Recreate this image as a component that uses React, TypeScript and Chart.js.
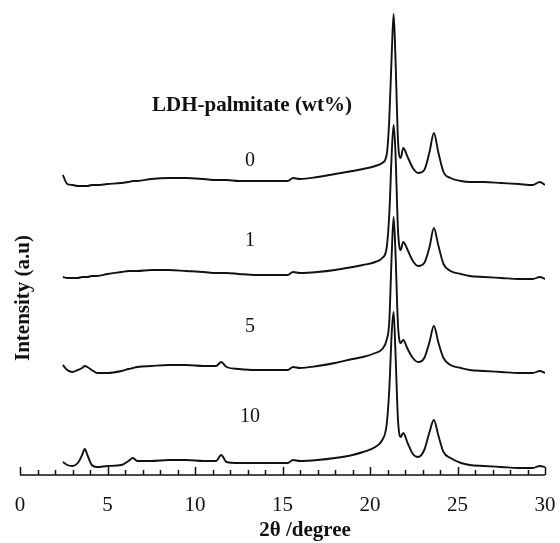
import React, { useEffect, useRef } from "react";
import { Chart, registerables } from "chart.js";

Chart.register(...registerables);

// 2θ (degree) sampling points
const TWO_THETA = [
  2.45, 2.7, 3.0, 3.3, 3.55, 3.7, 3.85, 4.1, 4.4, 5.0, 5.8, 6.2, 6.45, 6.7, 7.5, 8.5, 9.5, 10.5, 11.2, 11.5,
  11.8, 12.5, 13.5, 14.5, 15.3, 15.6, 16.0, 17.0, 18.0, 19.0, 19.6, 20.3, 20.7, 20.95, 21.1, 21.25, 21.35, 21.45,
  21.6, 21.75, 21.9, 22.15, 22.45, 22.75, 23.1, 23.4, 23.65, 23.9, 24.2, 24.6, 25.2, 25.7, 26.5, 27.5, 28.5,
  29.3, 29.7, 30.0,
];

// Intensity (a.u.), stacked with vertical offsets as in the figure
const INTENSITY_0 = [
  300, 291, 290, 289, 289, 289, 289, 290, 290, 291, 292, 293, 294, 294, 296, 297, 297, 296, 295, 295,
  295, 294, 294, 294, 294, 297, 296, 298, 301, 304, 306, 309, 312, 320, 355, 425, 461, 420,
  335, 317, 327, 318, 307, 302, 305, 323, 342, 323, 303, 297, 294, 293, 293, 292, 291,
  290, 293, 290,
];
const INTENSITY_1 = [
  198, 197, 197, 197, 198, 198, 198, 199, 199, 201, 203, 204, 204, 204, 205, 205, 204, 203, 202, 202,
  202, 201, 200, 200, 200, 203, 202, 203, 205, 208, 210, 213, 217, 227, 260, 325, 350, 325,
  245, 225, 233, 225, 214, 209, 212, 228, 247, 230, 211, 204, 201, 199, 198, 197, 196,
  196, 198, 196,
];
const INTENSITY_5 = [
  110, 105, 103, 105, 107, 109, 108, 105, 102, 102, 104, 106, 107, 108, 109, 110, 110, 109, 109, 113,
  108, 106, 105, 105, 105, 108, 107, 109, 112, 116, 118, 122, 126, 135, 153, 225, 258, 225,
  150, 132, 135, 126, 117, 113, 117, 133, 149, 133, 117, 110, 107, 105, 104, 103, 102,
  102, 104, 102,
];
const INTENSITY_10 = [
  13, 10, 9, 12, 20, 26, 20, 10, 8, 9, 10, 14, 17, 14, 14, 15, 15, 14, 14, 20,
  13, 12, 12, 12, 12, 15, 14, 15, 17, 20, 23, 28, 35, 50, 85, 145, 163, 125,
  55, 38, 42, 32, 21, 18, 25, 43, 55, 40, 23, 17, 12, 10, 9, 8, 7,
  7, 9, 8,
];

const SERIES_NAMES = ["0", "1", "5", "10"];
const X_TICKS = [0, 5, 10, 15, 20, 25, 30];
const LEGEND_TITLE = "LDH-palmitate (wt%)";
const X_TITLE = "2θ /degree";
const Y_TITLE = "Intensity (a.u)";

// label anchor heights (in y-axis units)
const NAME_LEVELS = [314, 234, 148, 58];
const TITLE_LEVEL = 369;

const SERIF = '"Liberation Serif", "DejaVu Serif", serif';

const overlay = {
  id: "overlay",
  afterDraw(chart: any) {
    const { ctx } = chart;
    const x = chart.scales.x;
    const y = chart.scales.y;
    const y0 = y.getPixelForValue(0);
    ctx.save();
    ctx.strokeStyle = "#111";
    ctx.lineWidth = 1.5;
    ctx.beginPath();
    ctx.moveTo(x.getPixelForValue(0), y0);
    ctx.lineTo(x.getPixelForValue(30), y0);
    for (let v = 0; v <= 30; v++) {
      const px = Math.round(x.getPixelForValue(v)) + 0.5;
      const len = v % 5 === 0 ? 8 : 5;
      ctx.moveTo(px, y0);
      ctx.lineTo(px, y0 - len);
    }
    ctx.stroke();

    ctx.fillStyle = "#111";
    ctx.textAlign = "center";
    ctx.textBaseline = "top";
    ctx.font = `21px ${SERIF}`;
    X_TICKS.forEach((v) => ctx.fillText(String(v), x.getPixelForValue(v), y0 + 20));

    ctx.font = `bold 21px ${SERIF}`;
    ctx.textBaseline = "alphabetic";
    ctx.fillText(X_TITLE, 305, 536);

    ctx.save();
    ctx.translate(24, 298);
    ctx.rotate(-Math.PI / 2);
    ctx.textBaseline = "middle";
    ctx.fillText(Y_TITLE, 0, 0);
    ctx.restore();

    ctx.textBaseline = "middle";
    ctx.font = `bold 21px ${SERIF}`;
    ctx.fillText(LEGEND_TITLE, 252, y.getPixelForValue(TITLE_LEVEL));
    ctx.font = `20px ${SERIF}`;
    SERIES_NAMES.forEach((n, i) => ctx.fillText(n, 250, y.getPixelForValue(NAME_LEVELS[i])));
    ctx.restore();
  },
};

export default function App() {
  const ref = useRef<HTMLCanvasElement | null>(null);
  useEffect(() => {
    if (!ref.current) return;
    const series = [INTENSITY_0, INTENSITY_1, INTENSITY_5, INTENSITY_10];
    const chart = new Chart(ref.current, {
      type: "line",
      data: {
        datasets: series.map((s, i) => ({
          label: SERIES_NAMES[i],
          data: TWO_THETA.map((t, k) => ({ x: t, y: s[k] })),
          borderColor: "#111",
          borderWidth: 1.9,
          pointRadius: 0,
          fill: false,
          cubicInterpolationMode: "monotone" as const,
        })),
      },
      options: {
        responsive: false,
        animation: false,
        layout: { padding: { left: 20, right: 15, top: 5, bottom: 68 } },
        plugins: { legend: { display: false }, tooltip: { enabled: false } },
        scales: {
          x: { type: "linear", min: 0, max: 30, display: false },
          y: { type: "linear", min: 0, max: 470, display: false },
        },
      },
      plugins: [overlay],
    });
    return () => chart.destroy();
  }, []);
  return (
    <div style={{ position: "fixed", left: 0, top: 0, width: 560, height: 543, background: "#fff" }}>
      <canvas ref={ref} width={560} height={543} style={{ display: "block" }} />
    </div>
  );
}
